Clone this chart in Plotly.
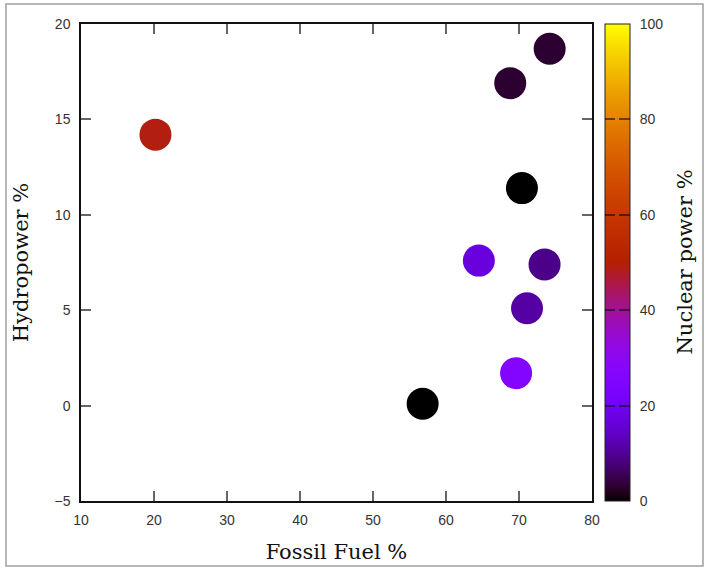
import math
import plotly.graph_objects as go

# Data
fossil = [20.2, 68.8, 74.2, 70.4, 64.5, 73.5, 71.1, 69.6, 56.8]
hydro = [14.2, 16.9, 18.7, 11.4, 7.6, 7.4, 5.1, 1.7, 0.1]
nuclear = [49, 3, 3, 0, 17, 9, 11, 27, 0]

x_ticks = [10, 20, 30, 40, 50, 60, 70, 80]
y_ticks = [-5, 0, 5, 10, 15, 20]
cb_ticks = [0, 20, 40, 60, 80, 100]
CB_MIN, CB_MAX = 0, 100

# gnuplot default palette (rgbformulae 7,5,15)
def gp(t):
    r = math.sqrt(t)
    g = t ** 3
    b = max(0.0, math.sin(2 * math.pi * t))
    return f"rgb({round(r*255)},{round(g*255)},{round(b*255)})"

N = 64
colorscale = [[i / N, gp(i / N)] for i in range(N + 1)]
clear_scale = [[0, "rgba(0,0,0,0)"], [1, "rgba(0,0,0,0)"]]

W, H = 705, 569
L, R, T, B = 81, 592, 24, 501
pw, ph = R - L, B - T
CB_X0, CB_W = 605, 25

tick_font = dict(family="Liberation Sans, Arial", size=14, color="#333")
title_font = dict(family="DejaVu Serif", size=21, color="#111")

fig = go.Figure()
fig.add_trace(go.Scatter(
    x=fossil, y=hydro, mode="markers",
    marker=dict(
        size=32, color=nuclear, cmin=CB_MIN, cmax=CB_MAX, colorscale=colorscale,
        line=dict(width=0),
        colorbar=dict(
            x=(CB_X0 - L) / pw, xanchor="left",
            y=0.5, yanchor="middle",
            len=1, lenmode="fraction",
            thickness=CB_W, outlinewidth=1, outlinecolor="#222",
            tickvals=cb_ticks, ticks="outside", ticklen=7,
            tickcolor="rgba(0,0,0,0)",
            tickfont=tick_font,
            xpad=0, ypad=0,
        ),
    ),
    showlegend=False,
))

# two transparent overlay colorbars that draw the dashed tick marks across the bar
for x_left, thick in [(CB_X0, 10), (CB_X0 + 14, 11)]:
    fig.add_trace(go.Scatter(
        x=fossil, y=hydro, mode="markers", hoverinfo="skip",
        marker=dict(
            size=0, opacity=0, color=nuclear, cmin=CB_MIN, cmax=CB_MAX,
            colorscale=clear_scale,
            colorbar=dict(
                x=(x_left - L) / pw, xanchor="left", y=0.5, yanchor="middle",
                len=1, lenmode="fraction", thickness=thick, outlinewidth=0,
                tickvals=cb_ticks[1:-1], ticks="inside", ticklen=thick,
                tickwidth=2, tickcolor="rgba(0,0,0,0.55)",
                showticklabels=False, xpad=0, ypad=0,
                bgcolor="rgba(0,0,0,0)", borderwidth=0,
            ),
        ),
        showlegend=False,
    ))

fig.add_annotation(text="Nuclear power %", xref="paper", yref="paper",
                   x=(684 - L) / pw, y=0.5, textangle=-90, showarrow=False,
                   font=title_font, xanchor="center", yanchor="middle")

axis_common = dict(
    showgrid=False, zeroline=False, showline=True, linecolor="#111", linewidth=1.5,
    mirror="allticks", ticks="inside", ticklen=10, tickwidth=1.5, tickcolor="#666",
    tickfont=tick_font, automargin=False,
)

fig.update_xaxes(range=[10, 80], tickvals=x_ticks, ticklabelstandoff=5,
                 title=dict(text="Fossil Fuel %", standoff=18, font=title_font),
                 **axis_common)
fig.update_yaxes(range=[-5, 20], tickvals=y_ticks, ticklabelstandoff=6,
                 title=dict(text="Hydropower %", standoff=20, font=title_font),
                 **axis_common)

fig.add_shape(type="rect", xref="paper", yref="paper",
              x0=(6 - L) / pw, x1=(703 - L) / pw,
              y0=(B - 566) / ph, y1=(B - 4) / ph,
              line=dict(color="#a0a0a0", width=1.5), layer="below")

fig.update_layout(
    width=W, height=H,
    margin=dict(l=L, r=W - R, t=T, b=H - B, autoexpand=False),
    plot_bgcolor="white", paper_bgcolor="white",
)

fig.write_html("out.html", config={"displayModeBar": False},
               post_script="document.body.style.margin='0';")
